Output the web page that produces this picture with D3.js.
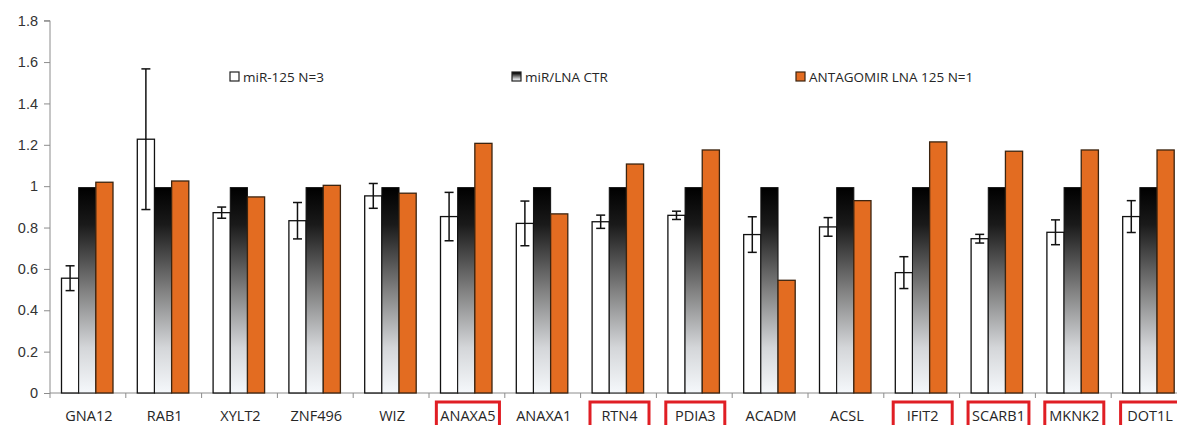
<!DOCTYPE html>
<html>
<head>
<meta charset="utf-8">
<script src="https://cdn.jsdelivr.net/npm/d3@7"></script>
<style>
  body { margin: 0; background: #fff; }
  svg { display: block; font-family: "Open Sans", "Liberation Sans", sans-serif; }
  .axis path, .axis line { stroke: #8c8c8c; }
  .axis text { fill: #333; }
</style>
</head>
<body>
<div id="chart"></div>
<script>
// ── DATA ──────────────────────────────────────────────────────
const genes = ["GNA12", "RAB1", "XYLT2", "ZNF496", "WIZ", "ANAXA5", "ANAXA1", "RTN4",
               "PDIA3", "ACADM", "ACSL", "IFIT2", "SCARB1", "MKNK2", "DOT1L"];
const boxed = ["ANAXA5", "RTN4", "PDIA3", "IFIT2", "SCARB1", "MKNK2", "DOT1L"];
const seriesNames = ["miR-125 N=3", "miR/LNA CTR", "ANTAGOMIR LNA 125 N=1"];

const mir125    = [0.555, 1.227, 0.872, 0.833, 0.953, 0.853, 0.82, 0.828, 0.859, 0.766, 0.803, 0.582, 0.746, 0.777, 0.853];
const mir125Err = [0.06, 0.34, 0.027, 0.088, 0.06, 0.117, 0.108, 0.032, 0.02, 0.086, 0.045, 0.077, 0.021, 0.06, 0.077];
const lnaCtr    = [0.993, 0.993, 0.993, 0.993, 0.993, 0.993, 0.993, 0.993, 0.993, 0.993, 0.993, 0.993, 0.993, 0.993, 0.993];
const antagomir = [1.019, 1.025, 0.948, 1.004, 0.966, 1.207, 0.866, 1.107, 1.175, 0.545, 0.93, 1.214, 1.169, 1.175, 1.175];
const yTicks    = [0, 0.2, 0.4, 0.6, 0.8, 1, 1.2, 1.4, 1.6, 1.8];

// ── DIMENSIONS ────────────────────────────────────────────────
const W = 1177, H = 425;
const x0Left = 50, bandW = 75.8;
const y0 = 393, yTop = 20.7;

const svg = d3.select("#chart").append("svg")
  .attr("width", W).attr("height", H);

// gradient for the control bars
const defs = svg.append("defs");
const grad = defs.append("linearGradient")
  .attr("id", "ctrGrad").attr("x1", 0).attr("y1", 0).attr("x2", 0).attr("y2", 1);
[["0%", "#000"], ["18%", "#1a1a1a"], ["50%", "#808080"], ["78%", "#d4d6d9"], ["100%", "#f5f8fb"]]
  .forEach(([o, c]) => grad.append("stop").attr("offset", o).attr("stop-color", c));

// ── SCALES ────────────────────────────────────────────────────
const x0 = d3.scaleBand().domain(genes).range([x0Left, x0Left + bandW * genes.length]);
const x1 = d3.scaleBand().domain(seriesNames).range([11.5, 63]);
const y  = d3.scaleLinear().domain([0, 1.8]).range([y0, yTop]);

// ── AXES ──────────────────────────────────────────────────────
svg.append("g")
  .attr("class", "axis")
  .attr("transform", `translate(${x0Left},0)`)
  .call(d3.axisLeft(y).tickValues(yTicks).tickFormat(d3.format("~g")).tickSize(6).tickPadding(6))
  .call(g => g.selectAll("text").attr("font-size", 14.5))
  .call(g => g.select(".domain").attr("d", `M-6,${yTop}H0V${y0}`));

const xAxis = svg.append("g")
  .attr("class", "axis")
  .attr("transform", `translate(0,${y0})`);
xAxis.append("line")
  .attr("x1", x0Left).attr("x2", W).attr("stroke", "#8c8c8c");
xAxis.selectAll(".tk")
  .data(genes)
  .join("line")
    .attr("class", "tk")
    .attr("x1", d => x0(d)).attr("x2", d => x0(d))
    .attr("y1", 0).attr("y2", 5)
    .attr("stroke", "#8c8c8c");

// ── BARS ──────────────────────────────────────────────────────
const rows = genes.map((g, i) => ({ gene: g, vals: [mir125[i], lnaCtr[i], antagomir[i]], err: mir125Err[i] }));
const fills = ["#ffffff", "url(#ctrGrad)", "#e36c21"];

const groups = svg.selectAll(".grp")
  .data(rows)
  .join("g")
    .attr("class", "grp")
    .attr("transform", d => `translate(${x0(d.gene)},0)`);

groups.selectAll("rect")
  .data(d => d.vals.map((v, j) => ({ v, j })))
  .join("rect")
    .attr("x", d => x1(seriesNames[d.j]))
    .attr("y", d => y(d.v))
    .attr("width", x1.bandwidth())
    .attr("height", d => y0 - y(d.v))
    .attr("fill", d => fills[d.j])
    .attr("stroke", d => d.j === 2 ? "#3b2410" : "#111")
    .attr("stroke-width", d => d.j === 1 ? 1 : 1.3);

// error bars on miR-125
const cx = x1(seriesNames[0]) + x1.bandwidth() / 2;
const eb = groups.append("g").attr("stroke", "#111").attr("stroke-width", 1.5);
eb.append("line")
  .attr("x1", cx).attr("x2", cx)
  .attr("y1", d => y(d.vals[0] + d.err)).attr("y2", d => y(d.vals[0] - d.err));
eb.append("line")
  .attr("x1", cx - 4.5).attr("x2", cx + 4.5)
  .attr("y1", d => y(d.vals[0] + d.err)).attr("y2", d => y(d.vals[0] + d.err));
eb.append("line")
  .attr("x1", cx - 4.5).attr("x2", cx + 4.5)
  .attr("y1", d => y(d.vals[0] - d.err)).attr("y2", d => y(d.vals[0] - d.err));

// ── CATEGORY LABELS ───────────────────────────────────────────
const labels = svg.selectAll(".lbl")
  .data(genes)
  .join("text")
    .attr("class", "lbl")
    .attr("x", d => x0(d) + bandW / 2 + 1)
    .attr("y", 421)
    .attr("text-anchor", "middle")
    .attr("font-size", 14.5)
    .attr("fill", "#262626")
    .text(d => d);

labels.filter(d => boxed.includes(d)).each(function(d) {
  const bb = this.getBBox();
  const bw = Math.max(59, bb.width + 8);
  const c = x0(d) + bandW / 2 + 1;
  svg.append("rect")
    .attr("x", c - bw / 2).attr("y", 402)
    .attr("width", bw).attr("height", 30)
    .attr("fill", "none")
    .attr("stroke", "#e01e24")
    .attr("stroke-width", 3);
});

// ── LEGEND ────────────────────────────────────────────────────
const legendX = [230, 512, 796];
const legend = svg.selectAll(".leg")
  .data(seriesNames)
  .join("g")
    .attr("class", "leg")
    .attr("transform", (d, i) => `translate(${legendX[i]},72)`);
legend.append("rect")
  .attr("width", 9).attr("height", 9)
  .attr("fill", (d, i) => fills[i])
  .attr("stroke", (d, i) => i === 2 ? "#3b2410" : "#222")
  .attr("stroke-width", 1.2);
legend.append("text")
  .attr("x", 13).attr("y", 9.5)
  .attr("font-size", 13.5)
  .attr("fill", "#262626")
  .text(d => d);
</script>
</body>
</html>
